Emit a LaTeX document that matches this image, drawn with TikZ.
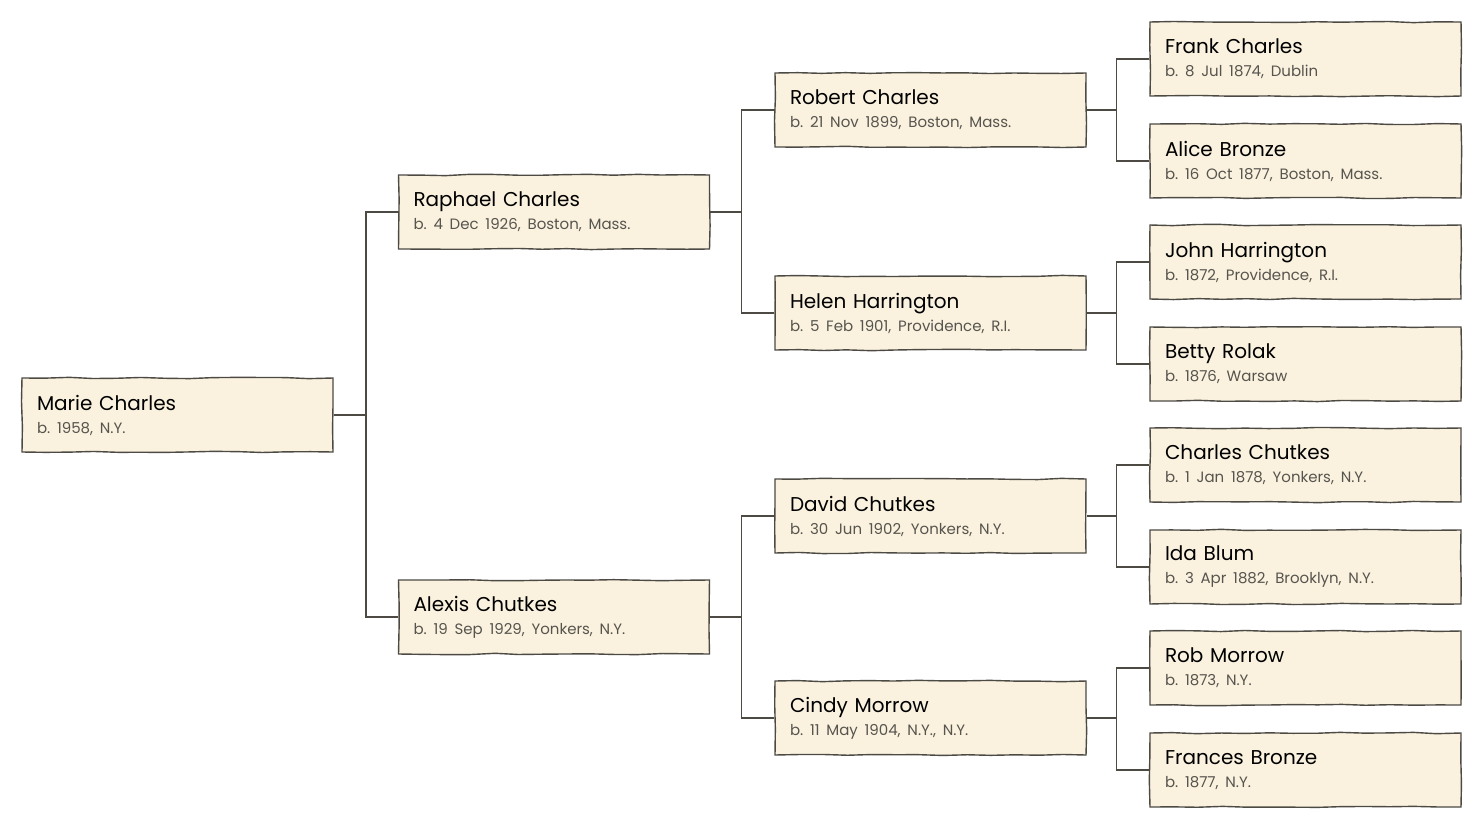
\documentclass[tikz,border=0pt]{standalone}
\usepackage{fontspec}
\setmainfont{Poppins}
\usetikzlibrary{decorations.pathmorphing}
\definecolor{paper}{HTML}{FAF2DF}
\definecolor{ink}{HTML}{4D4A44}
\definecolor{faded}{HTML}{57544E}
\tikzset{
	person/.style={draw=ink, line width=1.4pt, fill=paper, rectangle,
		minimum width=311pt, minimum height=74pt, text width=281pt,
		inner xsep=15pt, inner ysep=0pt, align=left,
		font=\fontsize{20}{23}\selectfont,
		decorate, decoration={random steps, segment length=24pt, amplitude=0.7pt}},
	link/.style={draw=ink, line width=1.4pt}
}
\newcommand{\who}[2]{#1\\{\fontsize{15}{23}\selectfont\frenchspacing\spaceskip=0.45em\color{faded}#2}}

\begin{document}
\begin{tikzpicture}[x=1pt, y=-1pt]
			%%%%% START %%%%%
			\useasboundingbox (0, 0) rectangle (1484, 830);
			
			\node[person] (marie) at (177.5, 415) {\who{Marie Charles}{b. 1958, N.Y.}};
			
			\node[person] (raphael) at (554, 212) {\who{Raphael Charles}{b. 4 Dec 1926, Boston, Mass.}};
			\node[person] (alexis) at (554, 617) {\who{Alexis Chutkes}{b. 19 Sep 1929, Yonkers, N.Y.}};
			
			\node[person] (robert) at (930.5, 110) {\who{Robert Charles}{b. 21 Nov 1899, Boston, Mass.}};
			\node[person] (helen) at (930.5, 313) {\who{Helen Harrington}{b. 5 Feb 1901, Providence, R.I.}};
			\node[person] (david) at (930.5, 516) {\who{David Chutkes}{b. 30 Jun 1902, Yonkers, N.Y.}};
			\node[person] (cindy) at (930.5, 718) {\who{Cindy Morrow}{b. 11 May 1904, N.Y., N.Y.}};
			
			\node[person] (frank) at (1305.5, 59) {\who{Frank Charles}{b. 8 Jul 1874, Dublin}};
			\node[person] (alice) at (1305.5, 161) {\who{Alice Bronze}{b. 16 Oct 1877, Boston, Mass.}};
			\node[person] (john) at (1305.5, 262) {\who{John Harrington}{b. 1872, Providence, R.I.}};
			\node[person] (betty) at (1305.5, 364) {\who{Betty Rolak}{b. 1876, Warsaw}};
			\node[person] (charles) at (1305.5, 465) {\who{Charles Chutkes}{b. 1 Jan 1878, Yonkers, N.Y.}};
			\node[person] (ida) at (1305.5, 567) {\who{Ida Blum}{b. 3 Apr 1882, Brooklyn, N.Y.}};
			\node[person] (rob) at (1305.5, 668) {\who{Rob Morrow}{b. 1873, N.Y.}};
			\node[person] (frances) at (1305.5, 770) {\who{Frances Bronze}{b. 1877, N.Y.}};
			
			\draw[link] (raphael.west) -- ++(-32, 0) |- (marie.east);
			\draw[link] (alexis.west) -- ++(-32, 0) |- (marie.east);
			
			\draw[link] (robert.west) -- ++(-33, 0) |- (raphael.east);
			\draw[link] (helen.west) -- ++(-33, 0) |- (raphael.east);
			\draw[link] (david.west) -- ++(-33, 0) |- (alexis.east);
			\draw[link] (cindy.west) -- ++(-33, 0) |- (alexis.east);
			
			\draw[link] (frank.west) -- ++(-33, 0) |- (robert.east);
			\draw[link] (alice.west) -- ++(-33, 0) |- (robert.east);
			\draw[link] (john.west) -- ++(-33, 0) |- (helen.east);
			\draw[link] (betty.west) -- ++(-33, 0) |- (helen.east);
			\draw[link] (charles.west) -- ++(-33, 0) |- (david.east);
			\draw[link] (ida.west) -- ++(-33, 0) |- (david.east);
			\draw[link] (rob.west) -- ++(-33, 0) |- (cindy.east);
			\draw[link] (frances.west) -- ++(-33, 0) |- (cindy.east);
			
			%%%%% END %%%%%
\end{tikzpicture}
\end{document}
